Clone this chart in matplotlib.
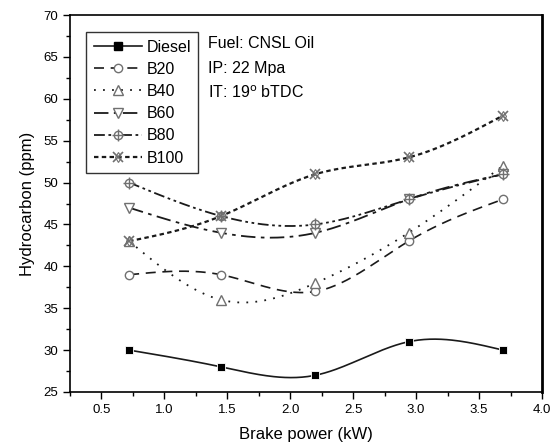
import numpy as np
import matplotlib
matplotlib.use("Agg")
import matplotlib.pyplot as plt
from matplotlib.ticker import MultipleLocator, FormatStrFormatter
from matplotlib.lines import Line2D

plt.rcParams['font.family'] = ['Liberation Sans', 'DejaVu Sans']

brake_power = [0.72, 1.45, 2.2, 2.94, 3.69]
diesel = [30, 28, 27, 31, 30]
b20 = [39, 39, 37, 43, 48]
b40 = [43, 36, 38, 44, 52]
b60 = [47, 44, 44, 48, 51]
b80 = [50, 46, 45, 48, 51]
b100 = [43, 46, 51, 53, 58]
labels = ["Diesel", "B20", "B40", "B60", "B80", "B100"]


def natural_spline(x, y, n=200):
    x = np.asarray(x, float)
    y = np.asarray(y, float)
    m = len(x)
    h = np.diff(x)
    A = np.zeros((m, m))
    r = np.zeros(m)
    A[0, 0] = 1
    A[-1, -1] = 1
    for i in range(1, m - 1):
        A[i, i - 1] = h[i - 1]
        A[i, i] = 2 * (h[i - 1] + h[i])
        A[i, i + 1] = h[i]
        r[i] = 3 * ((y[i + 1] - y[i]) / h[i] - (y[i] - y[i - 1]) / h[i - 1])
    c = np.linalg.solve(A, r)
    xs = np.linspace(x[0], x[-1], n)
    ys = np.empty_like(xs)
    for k, xv in enumerate(xs):
        i = min(np.searchsorted(x, xv, side='right') - 1, m - 2)
        i = max(i, 0)
        b = (y[i + 1] - y[i]) / h[i] - h[i] * (2 * c[i] + c[i + 1]) / 3
        d = (c[i + 1] - c[i]) / (3 * h[i])
        dx = xv - x[i]
        ys[k] = y[i] + b * dx + c[i] * dx ** 2 + d * dx ** 3
    return xs, ys


fig = plt.figure(figsize=(5.54, 4.46), dpi=100)
ax = fig.add_axes([70 / 554, 1 - 392 / 446, (542 - 70) / 554, (392 - 15) / 446])

lc = '#1a1a1a'
mc = '#707070'
series = [diesel, b20, b40, b60, b80, b100]
styles = ['-', (0, (6, 4)), (0, (1, 4)), (0, (8, 3, 2, 3)), (0, (6, 2, 1.5, 2, 1.5, 2)), (0, (2, 1.5))]
lws = [1.2, 1.2, 1.3, 1.3, 1.3, 1.6]
handles = []
for vals, ls, lw, lab in zip(series, styles, lws, labels):
    xs, ys = natural_spline(brake_power, vals)
    ax.plot(xs, ys, color=lc, linestyle=ls, lw=lw, zorder=2)
    if lab == "Diesel":
        ax.plot(brake_power, vals, 's', ms=5.5, color='black', mec='white', mew=0.6, zorder=3, linestyle='none')
        h = Line2D([], [], color=lc, ls=ls, lw=lw, marker='s', ms=6, mfc='black', mec='black')
    elif lab == "B20":
        ax.plot(brake_power, vals, 'o', ms=6, mfc='white', mec=mc, mew=1.0, zorder=3, linestyle='none')
        h = Line2D([], [], color=lc, ls=ls, lw=lw, marker='o', ms=6, mfc='white', mec=mc)
    elif lab == "B40":
        ax.plot(brake_power, vals, '^', ms=7, mfc='white', mec=mc, mew=1.0, zorder=3, linestyle='none')
        h = Line2D([], [], color=lc, ls=ls, lw=lw, marker='^', ms=7, mfc='white', mec=mc)
    elif lab == "B60":
        ax.plot(brake_power, vals, 'v', ms=7, mfc='white', mec=mc, mew=1.0, zorder=3, linestyle='none')
        h = Line2D([], [], color=lc, ls=ls, lw=lw, marker='v', ms=7, mfc='white', mec=mc)
    elif lab == "B80":
        ax.plot(brake_power, vals, 'o', ms=6, mfc='white', mec=mc, mew=1.0, zorder=3, linestyle='none')
        ax.plot(brake_power, vals, '+', ms=8, color=mc, mew=1.0, zorder=4, linestyle='none')
        h = (Line2D([], [], color=lc, ls=ls, lw=lw, marker='o', ms=6, mfc='white', mec=mc),
             Line2D([], [], ls='none', marker='+', ms=8, color=mc))
    else:
        ax.plot(brake_power, vals, 'x', ms=7, color=mc, mew=1.2, zorder=3, linestyle='none')
        ax.plot(brake_power, vals, 'd', ms=5, mfc='none', mec=mc, mew=0.8, zorder=4, linestyle='none')
        h = (Line2D([], [], color=lc, ls=ls, lw=lw, marker='x', ms=7, mec=mc, mew=1.2),
             Line2D([], [], ls='none', marker='d', ms=5, mfc='none', mec=mc, mew=0.8))
    handles.append(h)

ax.set_xlim(0.25, 4.0)
ax.set_ylim(25, 70)
ax.xaxis.set_major_locator(MultipleLocator(0.5))
ax.xaxis.set_minor_locator(MultipleLocator(0.25))
ax.yaxis.set_major_locator(MultipleLocator(5))
ax.yaxis.set_minor_locator(MultipleLocator(2.5))
ax.tick_params(which='major', direction='out', length=5, width=1, labelsize=9.5, colors='black')
ax.tick_params(which='minor', direction='out', length=3, width=1)
ax.xaxis.set_major_formatter(FormatStrFormatter('%.1f'))
for s in ax.spines.values():
    s.set_linewidth(1.2)
ax.spines['right'].set_linewidth(2)

ax.set_xlabel("Brake power (kW)", fontsize=12, labelpad=8)
ax.set_ylabel("Hydrocarbon (ppm)", fontsize=12, labelpad=6)

leg = ax.legend(handles, labels, loc='upper left', bbox_to_anchor=(0.018, 0.975),
                fontsize=11.5, handlelength=3.0, handletextpad=0.3, labelspacing=0.45,
                borderpad=0.45, fancybox=False, framealpha=1, edgecolor='#333333')
leg.get_frame().set_linewidth(1.0)

ax.text(0.292, 0.925, "Fuel: CNSL Oil", transform=ax.transAxes, fontsize=11.5, va='center')
ax.text(0.292, 0.858, "IP: 22 Mpa", transform=ax.transAxes, fontsize=11.5, va='center')
ax.text(0.292, 0.793, "IT: 19$^{\\mathrm{o}}$ bTDC", transform=ax.transAxes, fontsize=11.5, va='center')

fig.savefig("out.png", dpi=100)
